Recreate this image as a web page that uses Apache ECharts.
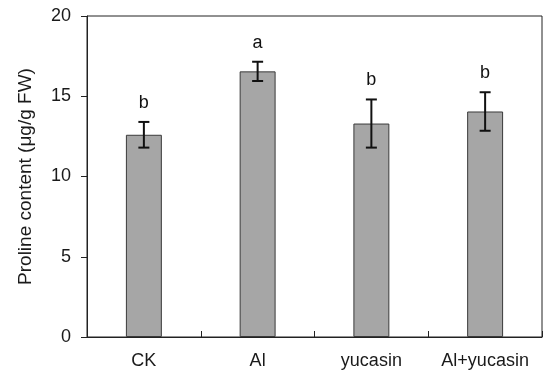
<!DOCTYPE html>
<html>
<head>
<meta charset="utf-8">
<script src="https://cdn.jsdelivr.net/npm/echarts@6/dist/echarts.min.js"></script>
<style>
html,body{margin:0;padding:0;background:#fff;}
#chart{width:550px;height:376px;}
</style>
</head>
<body>
<div id="chart"></div>
<script>
var categories = ['CK', 'Al', 'yucasin', 'Al+yucasin'];
var means = [12.6, 16.55, 13.3, 14.05];
var errors = [0.8, 0.6, 1.5, 1.2];
var letters = ['b', 'a', 'b', 'b'];
var yTicks = [0, 5, 10, 15, 20];

var FONT = '"Liberation Sans", Arial, sans-serif';
var chart = echarts.init(document.getElementById('chart'), null, {renderer: 'canvas'});

var errData = categories.map(function (c, i) {
  return [i, means[i] - errors[i], means[i] + errors[i], letters[i]];
});

chart.setOption({
  animation: false,
  backgroundColor: '#ffffff',
  grid: {left: 87, right: 8, top: 16, bottom: 39, show: true, borderColor: '#222', borderWidth: 1},
  xAxis: {
    type: 'category',
    data: categories,
    boundaryGap: true,
    axisLine: {lineStyle: {color: '#222', width: 1}},
    axisTick: {show: true, inside: true, length: 6, interval: 0, lineStyle: {color: '#222'}},
    axisLabel: {fontFamily: FONT, fontSize: 18, color: '#1a1a1a', margin: 15, interval: 0, hideOverlap: false}
  },
  yAxis: {
    type: 'value',
    min: yTicks[0],
    max: yTicks[yTicks.length - 1],
    interval: yTicks[1] - yTicks[0],
    name: 'Proline content (\u03bcg/g FW)',
    nameLocation: 'middle',
    nameGap: 52,
    nameTextStyle: {fontFamily: FONT, fontSize: 19, color: '#1a1a1a'},
    axisLine: {show: true, lineStyle: {color: '#222', width: 1}},
    axisTick: {show: true, inside: false, length: 6, lineStyle: {color: '#222'}},
    axisLabel: {fontFamily: FONT, fontSize: 18, color: '#1a1a1a', margin: 16},
    splitLine: {show: false}
  },
  series: [
    {
      type: 'bar',
      data: means,
      barWidth: '31.6%',
      itemStyle: {color: '#a6a6a6', borderColor: '#3a3a3a', borderWidth: 1}
    },
    {
      type: 'custom',
      data: errData,
      z: 10,
      renderItem: function (params, api) {
        var x = api.value(0);
        var lo = api.coord([x, api.value(1)]);
        var hi = api.coord([x, api.value(2)]);
        var cap = 5.5;
        var style = {stroke: '#111', lineWidth: 2};
        return {
          type: 'group',
          children: [
            {type: 'line', shape: {x1: lo[0], y1: lo[1], x2: hi[0], y2: hi[1]}, style: style},
            {type: 'line', shape: {x1: hi[0] - cap, y1: hi[1], x2: hi[0] + cap, y2: hi[1]}, style: style},
            {type: 'line', shape: {x1: lo[0] - cap, y1: lo[1], x2: lo[0] + cap, y2: lo[1]}, style: style},
            {type: 'text', style: {text: letters[params.dataIndex], x: hi[0], y: hi[1] - 10,
              textAlign: 'center', textVerticalAlign: 'bottom', fill: '#111', font: '18px ' + FONT}}
          ]
        };
      }
    }
  ]
});
</script>
</body>
</html>
